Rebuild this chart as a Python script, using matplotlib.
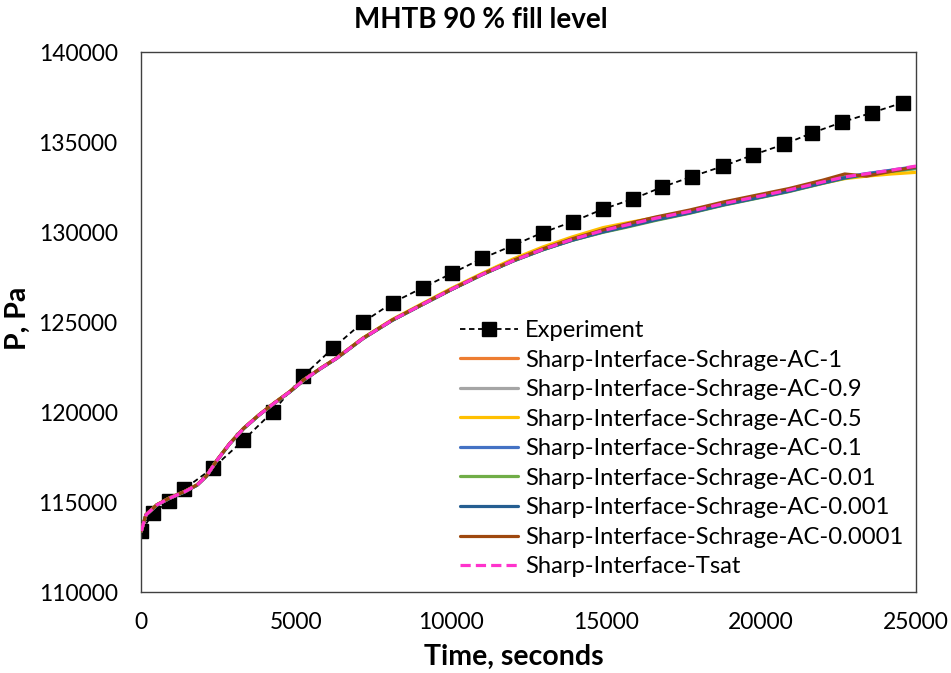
import matplotlib
matplotlib.use("Agg")
import matplotlib.pyplot as plt

plt.rcParams['font.family'] = ['Lato', 'DejaVu Sans']

# Measured tank pressure
exp_t = [0, 390, 890, 1370, 2320, 3290, 4240, 5210, 6200, 7150, 8110, 9080,
         10020, 11000, 11980, 12950, 13920, 14890, 15860, 16790, 17760, 18780,
         19730, 20740, 21650, 22600, 23570, 24570]
exp_p = [113400, 114420, 115070, 115720, 116920, 118440, 120030, 122000,
         123590, 125000, 126090, 126920, 127720, 128550, 129260, 129980,
         130590, 131280, 131850, 132500, 133090, 133680, 134290, 134890,
         135520, 136110, 136640, 137200]

# Simulation output times
sim_t = [0, 150, 500, 900, 1400, 1800, 2100, 2450, 2850, 3300, 3800, 4300,
         4800, 5250, 5800, 6300, 7150, 8100, 9100, 10000, 11000, 12000, 12950,
         13900, 14900, 15600, 16600, 17700, 18800, 19900, 20900, 22000, 22700,
         23400, 24200, 25000]

ac_1 = [113400, 114300, 114850, 115220, 115590, 115960, 116450, 117350, 118250,
        119100, 119850, 120520, 121150, 121800, 122450, 123000, 124100, 125120,
        126020, 126820, 127660, 128420, 129040, 129580, 130070, 130340, 130740,
        131120, 131560, 131950, 132310, 132760, 133020, 133200, 133380, 133560]
ac_09 = [113400, 114300, 114850, 115220, 115590, 115960, 116450, 117350, 118250,
         119100, 119850, 120520, 121150, 121800, 122450, 123000, 124100, 125120,
         126020, 126820, 127660, 128420, 129050, 129590, 130090, 130370, 130770,
         131150, 131590, 131980, 132340, 132790, 133060, 133240, 133430, 133630]
ac_05 = [113400, 114320, 114870, 115240, 115610, 115980, 116470, 117370, 118270,
         119120, 119870, 120540, 121170, 121820, 122470, 123020, 124130, 125160,
         126070, 126880, 127720, 128520, 129180, 129740, 130260, 130500, 130820,
         131170, 131590, 131950, 132300, 132730, 132980, 133120, 133240, 133330]
ac_01 = [113400, 114290, 114840, 115210, 115580, 115950, 116440, 117340, 118240,
         119090, 119840, 120510, 121140, 121790, 122440, 122990, 124090, 125110,
         126010, 126810, 127650, 128410, 129030, 129560, 130030, 130300, 130700,
         131100, 131540, 131930, 132300, 132760, 133060, 133260, 133450, 133650]
ac_001 = [113400, 114290, 114840, 115210, 115580, 115950, 116440, 117340, 118240,
          119090, 119840, 120510, 121140, 121790, 122440, 122990, 124090, 125110,
          126010, 126810, 127650, 128400, 129020, 129550, 130000, 130260, 130660,
          131060, 131510, 131900, 132260, 132720, 133000, 133200, 133380, 133540]
ac_0001 = [113400, 114300, 114850, 115220, 115590, 115960, 116450, 117350, 118250,
           119100, 119850, 120520, 121150, 121800, 122450, 123000, 124100, 125110,
           126010, 126810, 127650, 128410, 129030, 129560, 130020, 130290, 130690,
           131080, 131530, 131920, 132280, 132740, 133020, 133220, 133410, 133600]
ac_00001 = [113400, 114310, 114860, 115230, 115600, 115970, 116460, 117360, 118260,
            119110, 119860, 120530, 121160, 121810, 122460, 123010, 124110, 125130,
            126030, 126830, 127670, 128440, 129080, 129640, 130140, 130440, 130850,
            131240, 131690, 132080, 132430, 132900, 133240, 133120, 133390, 133640]
tsat = [113400, 114300, 114850, 115220, 115590, 115960, 116450, 117350, 118250,
        119100, 119850, 120520, 121150, 121800, 122450, 123000, 124100, 125120,
        126020, 126820, 127660, 128420, 129050, 129600, 130100, 130380, 130780,
        131160, 131600, 131990, 132350, 132800, 133080, 133250, 133450, 133680]

sim_series = [
    ("Sharp-Interface-Schrage-AC-1", ac_1, "#ED7D31", "-"),
    ("Sharp-Interface-Schrage-AC-0.9", ac_09, "#A5A5A5", "-"),
    ("Sharp-Interface-Schrage-AC-0.5", ac_05, "#FFC000", "-"),
    ("Sharp-Interface-Schrage-AC-0.1", ac_01, "#4472C4", "-"),
    ("Sharp-Interface-Schrage-AC-0.01", ac_001, "#70AD47", "-"),
    ("Sharp-Interface-Schrage-AC-0.001", ac_0001, "#255E91", "-"),
    ("Sharp-Interface-Schrage-AC-0.0001", ac_00001, "#9E480E", "-"),
    ("Sharp-Interface-Tsat", tsat, "#FF33CC", "--"),
]

W, H = 951, 673
fig = plt.figure(figsize=(W / 100, H / 100), dpi=100)
ax = fig.add_axes([141.3 / W, 1 - 592.3 / H, (916 - 141.3) / W, (592.3 - 52.3) / H])

ax.plot(exp_t, exp_p, color="black", linestyle=(0, (3, 2)), linewidth=1.3,
        marker="s", markersize=10.5, markerfacecolor="black",
        markeredgecolor="black", label="Experiment", zorder=2)

for name, vals, col, ls in sim_series:
    if ls == "--":
        ax.plot(sim_t, vals, color=col, linewidth=2.3, linestyle=(0, (3.2, 1.6)),
                label=name, zorder=3)
    else:
        ax.plot(sim_t, vals, color=col, linewidth=2.3, label=name, zorder=3,
                solid_capstyle="round")

ax.set_xlim(0, 25000)
ax.set_ylim(110000, 140000)
ax.set_xticks(range(0, 25001, 5000))
ax.set_yticks(range(110000, 140001, 5000))
ax.tick_params(axis="both", length=0, labelsize=16.5, colors="#000000")
ax.tick_params(axis="y", pad=17)
ax.tick_params(axis="x", pad=14)
for sp in ax.spines.values():
    sp.set_color("#404040")
    sp.set_linewidth(1.0)

leg = ax.legend(loc="upper left", bbox_to_anchor=(460 / W, 1 - 320 / H),
                bbox_transform=fig.transFigure, frameon=False, fontsize=17.1,
                handlelength=2.45, handletextpad=0.3, labelspacing=0.36,
                borderpad=0, borderaxespad=0)

fig.text(481 / W, 1 - 20 / H, "MHTB 90 % fill level", ha="center", va="center",
         fontsize=20, fontweight="bold")
fig.text(18 / W, 1 - 318 / H, "P, Pa", ha="center", va="center",
         rotation=90, fontsize=20.5, fontweight="bold")
fig.text(514 / W, 1 - 657 / H, "Time, seconds", ha="center", va="center",
         fontsize=20.5, fontweight="bold")

fig.savefig("out.png", dpi=100)
